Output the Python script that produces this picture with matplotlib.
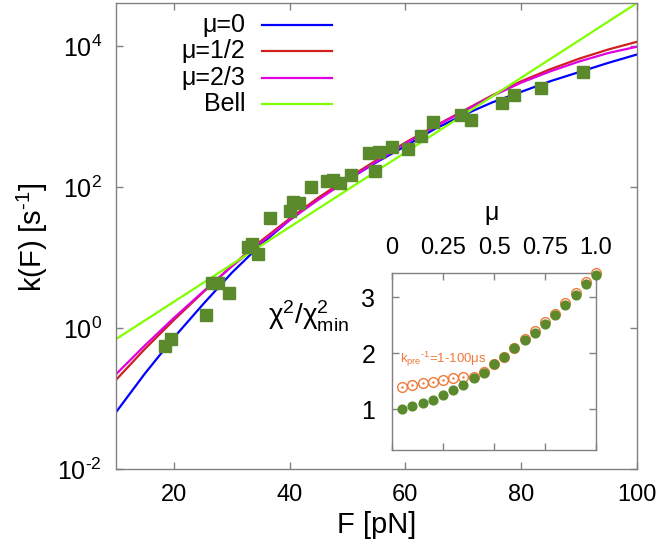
import matplotlib
matplotlib.use('Agg')
import matplotlib.pyplot as plt
from matplotlib.lines import Line2D
import numpy as np

plt.rcParams['font.family'] = ['Liberation Sans', 'DejaVu Sans']
plt.rcParams['mathtext.fontset'] = 'custom'
plt.rcParams['mathtext.rm'] = 'Liberation Sans'
plt.rcParams['mathtext.it'] = 'Liberation Sans:italic'
plt.rcParams['mathtext.default'] = 'regular'

# ---- data: experimental rupture rates ----
force_data = [18.5, 19.5, 25.6, 26.6, 27.6, 29.6, 32.8, 33.5, 34.6, 36.6,
              40.0, 40.6, 41.7, 43.7, 46.4, 47.5, 48.7, 50.6, 53.8, 54.8,
              55.4, 57.7, 60.4, 62.7, 64.7, 69.6, 71.4, 76.7, 78.8, 83.4, 90.7]
rate_data = [0.556, 0.69, 1.53, 4.39, 4.39, 3.16, 14.2, 15.5, 11.2, 36.7,
             45.7, 61.8, 58.6, 99, 120, 124, 115, 148, 302, 166,
             311, 373, 349, 524, 827, 1050, 891, 1550, 1990, 2570, 4270]

# ---- model curves (log10 k) ----
force_curve = [10, 15, 20, 25, 30, 35, 40, 45, 50, 55, 60, 65, 70, 75, 80, 85, 90, 95, 100]
logk_mu0 = [-1.20, -0.65, -0.14, 0.33, 0.78, 1.18, 1.53, 1.84, 2.10, 2.35,
            2.58, 2.82, 3.02, 3.20, 3.35, 3.50, 3.63, 3.76, 3.88]
logk_mu12 = [-0.74, -0.30, 0.11, 0.50, 0.88, 1.23, 1.55, 1.85, 2.12, 2.38,
             2.63, 2.86, 3.08, 3.30, 3.50, 3.67, 3.82, 3.95, 4.06]
logk_mu23 = [-0.66, -0.25, 0.14, 0.51, 0.87, 1.21, 1.53, 1.82, 2.10, 2.36,
             2.62, 2.85, 3.07, 3.29, 3.48, 3.64, 3.78, 3.90, 3.99]
force_bell = [10, 55, 100]
logk_bell = [-0.16, 2.225, 4.61]

# ---- inset data ----
mu_vals = [0.05, 0.10, 0.15, 0.20, 0.25, 0.30, 0.35, 0.40, 0.45, 0.50,
           0.55, 0.60, 0.65, 0.70, 0.75, 0.80, 0.85, 0.90, 0.95, 1.00]
chi_filled = [1.00, 1.06, 1.11, 1.17, 1.26, 1.34, 1.44, 1.56, 1.65, 1.81,
              1.93, 2.09, 2.24, 2.37, 2.53, 2.68, 2.86, 3.04, 3.23, 3.40]
chi_open = [1.40, 1.44, 1.46, 1.49, 1.52, 1.55, 1.58, 1.58, 1.66, 1.81,
            1.94, 2.10, 2.25, 2.39, 2.55, 2.70, 2.89, 3.07, 3.27, 3.44]

legend_labels = ['μ=0', 'μ=1/2', 'μ=2/3', 'Bell']
colors = ['#0000ff', '#d01f1f', '#e000e0', '#80ff00']
green = '#5a8a2c'
orange = '#ee7a3a'
spine_col = '#808080'

fig = plt.figure(figsize=(6.64, 5.56), dpi=100)
ax = fig.add_axes([0.1743, 0.1565, 0.7851, 0.8381])

curves = [(force_curve, logk_mu0), (force_curve, logk_mu12),
          (force_curve, logk_mu23), (force_bell, logk_bell)]
for (fx, ly), c in zip(curves, colors):
    ax.plot(fx, np.power(10.0, ly), color=c, lw=1.6, zorder=2)

ax.plot(force_data, rate_data, ls='none', marker='s', ms=8.6,
        color=green, mec=green, zorder=3)

ax.set_yscale('log')
ax.set_xlim(10, 100)
ax.set_ylim(1e-2, 10**4.61)
ax.set_xticks([20, 40, 60, 80, 100])
ax.set_xticklabels(['20', '40', '60', '80', '100'])
ax.set_yticks([1e-2, 1, 1e2, 1e4])
ax.set_yticklabels([r'10$^{\text{-}2}$', '10$^{0}$', '10$^{2}$', '10$^{4}$'])
ax.yaxis.set_minor_locator(matplotlib.ticker.NullLocator())
ax.tick_params(direction='in', length=5, width=1, color=spine_col,
               top=True, right=True, labelsize=17)
ax.tick_params(axis='x', pad=11)
ax.tick_params(axis='y', pad=10, labelsize=18)
for s in ax.spines.values():
    s.set_color(spine_col)
    s.set_linewidth(1)

fig.text((115.7 + 637) / 2 / 664, 1 - 525 / 556, 'F [pN]', ha='center',
         va='center', fontsize=21)
fig.text(32 / 664, 1 - 237 / 556, r'k(F) [s$^{\text{-}1}$]', ha='center',
         va='center', fontsize=21, rotation=90)

# legend (text right aligned, line sample on right)
leg_y = [0.953, 0.897, 0.839, 0.783]
for lab, c, yy in zip(legend_labels, colors, leg_y):
    ax.text(0.248, yy, lab, transform=ax.transAxes, ha='right', va='center',
            fontsize=18)
    ax.add_line(Line2D([0.281, 0.415], [yy, yy], transform=ax.transAxes,
                       color=c, lw=1.6))

# ---- inset ----
axin = fig.add_axes([0.5904, 0.1906, 0.3072, 0.3189])
axin.plot(mu_vals, chi_open, ls='none', marker='o', ms=7, mfc='white',
          mec=orange, mew=1.0, zorder=3, clip_on=False)
axin.plot(mu_vals, chi_open, ls='none', marker='.', ms=1.5, color=orange,
          zorder=3, clip_on=False)
axin.plot(mu_vals, chi_filled, ls='none', marker='o', ms=6.3, color=green,
          mec=green, zorder=4, clip_on=False)
axin.set_xlim(0, 1)
axin.set_ylim(0.27, 3.44)
axin.set_xticks([0, 0.25, 0.5, 0.75, 1.0])
axin.set_xticklabels(['0', '0.25', '0.5', '0.75', '1.0'])
axin.set_yticks([1, 2, 3])
axin.set_yticklabels(['1', '2', '3'])
axin.tick_params(direction='in', length=5, width=1, color=spine_col,
                 top=True, right=True, bottom=True, labeltop=True,
                 labelbottom=False, labelsize=17)
axin.tick_params(axis='x', pad=10)
axin.tick_params(axis='y', pad=12, labelsize=18)
for s in axin.spines.values():
    s.set_color(spine_col)
    s.set_linewidth(1)
axin.text(0.04, 0.513, r'k$_{pre}$$^{\text{-}1}$=1-100μs',
          transform=axin.transAxes, ha='left', va='center', fontsize=9.5,
          color=orange)
fig.text(492 / 664, 1 - 213 / 556, 'μ', ha='center', va='center', fontsize=18)
fig.text(268 / 664, 1 - 316 / 556, 'χ$^2$/χ$^2_{min}$', ha='left',
         va='center', fontsize=20)

fig.savefig('out.png', dpi=100)
